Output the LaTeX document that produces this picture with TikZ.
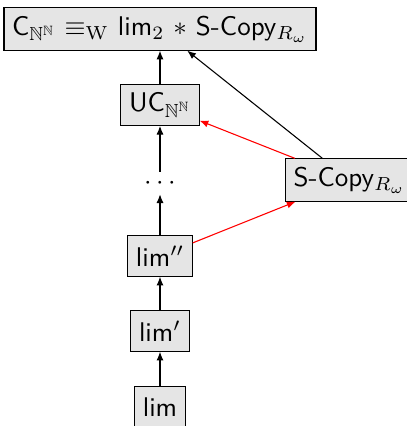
\documentclass[tikz,border=0pt]{standalone}
\usepackage{amssymb}
\usetikzlibrary{arrows.meta}
\begin{document}
\begin{tikzpicture}[x=0.37pt,y=-0.37pt,
  every node/.style={font=\sffamily},
  box/.style={draw=black, fill=gray!20, inner sep=3pt, minimum height=15pt},
  arr/.style={-{Latex[length=3.2pt,width=2.6pt]}, line width=0.4pt},
  redarr/.style={arr, red}]
\useasboundingbox (0,0) rectangle (406,426);
\node[box] (top) at (160,29) {C$_{\mathbb{N}^{\mathbb{N}}}$ $\equiv_{\mathrm{W}}$ lim$_2$ $*$ S-Copy$_{R_\omega}$};
\node[box] (uc) at (160,105) {UC$_{\mathbb{N}^{\mathbb{N}}}$};
\node[inner sep=0pt, minimum height=8pt] (dots) at (160,183) {$\cdots$};
\node[box] (lim2) at (160,256) {lim$''$};
\node[box] (lim1) at (160,331) {lim$'$};
\node[box] (lim0) at (160,407) {lim};
\node[box, anchor=west] (scopy) at (285,180) {S-Copy$_{R_\omega}$};
\draw[arr] (lim0) -- (lim1);
\draw[arr] (lim1) -- (lim2);
\draw[arr] (lim2) -- (dots);
\draw[arr] (dots) -- (uc);
\draw[arr] (uc) -- (top);
\draw[arr] (scopy) -- (top);
\draw[redarr] (scopy) -- (uc);
\draw[redarr] (lim2) -- (scopy);
\end{tikzpicture}
\end{document}
